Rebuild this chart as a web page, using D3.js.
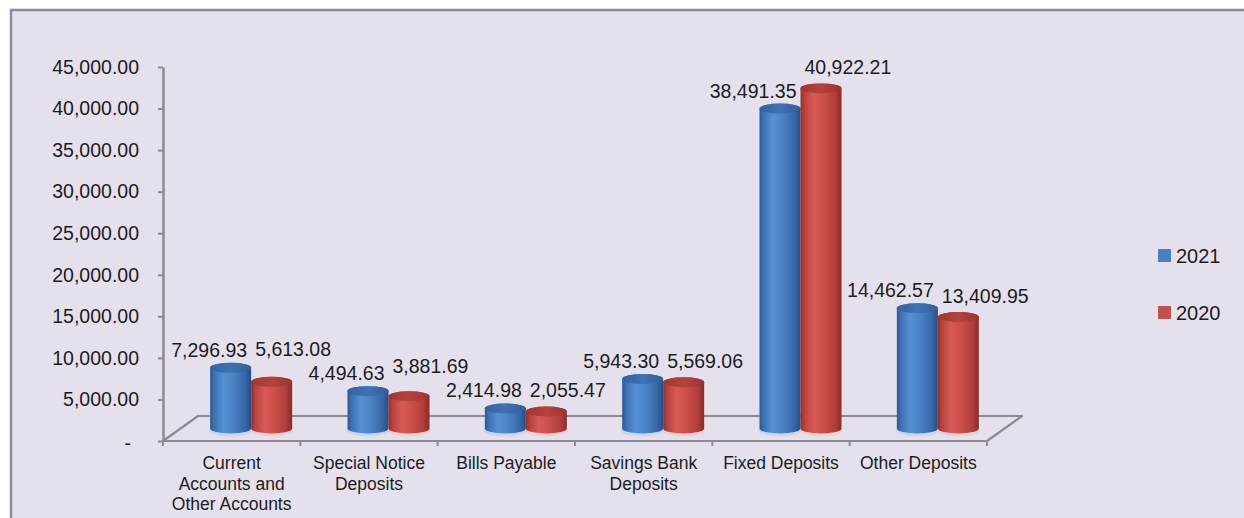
<!DOCTYPE html>
<html>
<head>
<meta charset="utf-8">
<script src="https://cdn.jsdelivr.net/npm/d3@7"></script>
<style>
  html, body { margin: 0; padding: 0; background: #ffffff; }
  svg { display: block; }
  text { font-family: "Liberation Sans", Arial, sans-serif; fill: #1c1c1c; }
</style>
</head>
<body>
<svg id="chart" width="1244" height="518"></svg>
<script>
// Deposits by type, 2021 vs 2020
const categories = [
  "Current Accounts and Other Accounts",
  "Special Notice Deposits",
  "Bills Payable",
  "Savings Bank Deposits",
  "Fixed Deposits",
  "Other Deposits"
];
const seriesNames = ["2021", "2020"];
const values2021 = [7296.93, 4494.63, 2414.98, 5943.30, 38491.35, 14462.57];
const values2020 = [5613.08, 3881.69, 2055.47, 5569.06, 40922.21, 13409.95];
const yTickValues = [0, 5000, 10000, 15000, 20000, 25000, 30000, 35000, 40000, 45000];

const seriesValues = { "2021": values2021, "2020": values2020 };

const svg = d3.select("#chart");
const W = 1244, H = 518;

// chart area frame
svg.append("rect")
  .attr("x", 11).attr("y", 10)
  .attr("width", W).attr("height", H)
  .attr("fill", "#e5e1ec")
  .attr("stroke", "#8e8b97")
  .attr("stroke-width", 2.5);

// plot geometry (oblique 3-D floor)
const plotLeft = 163, plotRight = 987;
const floorY = 441;
const depthX = 35, depthY = -25;     // back edge of the floor
const barDX = 19.5, barDY = -12.5;   // plane the cylinders stand on

const x = d3.scaleBand().domain(categories).range([plotLeft, plotRight]).padding(0);
const xSeries = d3.scaleBand().domain(seriesNames).range([-41, 41]).padding(0);
const yFront = d3.scaleLinear().domain([0, 45000]).range([floorY, 67]);
const yBar = v => yFront(v) + barDY;

const color = d3.scaleOrdinal().domain(seriesNames).range(["#4a7fc1", "#c4504c"]);
const gridColor = "#8c8b94";

// gradients for cylinder shading
const defs = svg.append("defs");
const shades = {
  "2021": {
    body: [["0%", "#2b5892"], ["10%", "#3c72b4"], ["32%", "#5590d3"], ["55%", "#4b84c6"], ["85%", "#3668a7"], ["100%", "#264d84"]],
    top: [["0%", "#3262a0"], ["50%", "#3f72b3"], ["100%", "#305e9a"]]
  },
  "2020": {
    body: [["0%", "#952d2a"], ["10%", "#b9423e"], ["32%", "#d65a55"], ["55%", "#cd4f4a"], ["85%", "#b03d39"], ["100%", "#8a2926"]],
    top: [["0%", "#9f3532"], ["50%", "#b6423e"], ["100%", "#9a3431"]]
  }
};
seriesNames.forEach((s, i) => {
  ["body", "top"].forEach(part => {
    const g = defs.append("linearGradient")
      .attr("id", `grad-${part}-${i}`)
      .attr("x1", "0%").attr("x2", "100%").attr("y1", "0%").attr("y2", "0%");
    shades[s][part].forEach(([off, c]) => g.append("stop").attr("offset", off).attr("stop-color", c));
  });
});

// floor outline
const floorPts = [
  [plotLeft, floorY],
  [plotRight, floorY],
  [plotRight + depthX, floorY + depthY],
  [plotLeft + depthX, floorY + depthY]
];
svg.append("path")
  .attr("d", d3.line()(floorPts) + "Z")
  .attr("fill", "none")
  .attr("stroke", gridColor)
  .attr("stroke-width", 2.2)
  .attr("stroke-linejoin", "round");

// category tick marks along the front edge
const boundaries = categories.map(c => x(c)).concat([plotRight]);
svg.append("g").selectAll("line")
  .data(boundaries)
  .join("line")
  .attr("x1", d => d).attr("x2", d => d)
  .attr("y1", floorY).attr("y2", floorY + 5)
  .attr("stroke", gridColor).attr("stroke-width", 2);

// value axis
const fmt = d3.format(",.2f");
const yAxis = d3.axisLeft(yFront)
  .tickValues(yTickValues)
  .tickSize(5)
  .tickSizeOuter(0)
  .tickPadding(19)
  .tickFormat(v => v === 0 ? "-" : fmt(v));
const axisG = svg.append("g")
  .attr("transform", `translate(${plotLeft},0)`)
  .call(yAxis);
axisG.select(".domain").attr("stroke", gridColor).attr("stroke-width", 2.5);
axisG.selectAll(".tick line").attr("stroke", gridColor).attr("stroke-width", 2);
axisG.selectAll(".tick text")
  .attr("font-size", "19.5px")
  .attr("font-family", "Liberation Sans, Arial, sans-serif")
  .attr("fill", "#1c1c1c");
axisG.selectAll(".tick").filter(d => d === 0).select("text").attr("dx", -8).attr("dy", "0.45em");

// cylinders
const rx = 20.5, ry = 5;
const bars = [];
categories.forEach((c, ci) => {
  const pc = x(c) + x.bandwidth() / 2 + barDX;
  seriesNames.forEach((s, si) => {
    const v = seriesValues[s][ci];
    bars.push({ cat: c, ci, s, si, v, pc, cx: pc + xSeries(s) + xSeries.bandwidth() / 2 });
  });
});

const barG = svg.append("g");
bars.forEach(b => {
  const yb = yBar(0), yt = yBar(b.v);
  const g = barG.append("g");
  // soft light below the base
  g.append("ellipse")
    .attr("cx", b.cx).attr("cy", yb + 2)
    .attr("rx", rx + 1).attr("ry", ry + 1)
    .attr("fill", b.si === 0 ? "#b9cdee" : "#eac4c6").attr("opacity", 0.6);
  const d = `M${b.cx - rx},${yt} L${b.cx - rx},${yb} A${rx},${ry} 0 0 0 ${b.cx + rx},${yb} L${b.cx + rx},${yt} A${rx},${ry} 0 0 0 ${b.cx - rx},${yt} Z`;
  g.append("path").attr("d", d).attr("fill", `url(#grad-body-${b.si})`);
  g.append("ellipse")
    .attr("cx", b.cx).attr("cy", yt)
    .attr("rx", rx).attr("ry", ry)
    .attr("fill", `url(#grad-top-${b.si})`);
});

// value labels: 2021 sits left of the pair centre, 2020 right of it
const gap = 4;
const labelG = svg.append("g");
const labels = bars.map(b => {
  const top = yBar(b.v) - ry;
  const t = labelG.append("text")
    .attr("font-size", "19.5px")
    .attr("text-anchor", b.si === 0 ? "end" : "start")
    .attr("x", b.si === 0 ? b.pc - gap : b.pc + gap)
    .text(fmt(b.v));
  const w = t.node().getComputedTextLength();
  const x0 = b.si === 0 ? b.pc - gap - w : b.pc + gap;
  return { t, x0, x1: x0 + w, y: top - (b.si === 0 ? 6 : 9) };
});
// lift labels that would collide with a neighbour already placed
const placed = [];
labels.slice().sort((a, b) => b.x0 - a.x0).forEach(l => {
  let moved = true;
  while (moved) {
    moved = false;
    for (const p of placed) {
      if (l.x0 < p.x1 && p.x0 < l.x1 && Math.abs(l.y - p.y) < 19) {
        l.y = p.y - 24;
        moved = true;
      }
    }
  }
  placed.push(l);
});
labels.forEach(l => l.t.attr("y", l.y));

// category labels, wrapped to fit
const catG = svg.append("g");
categories.forEach(c => {
  const cx = x(c) + x.bandwidth() / 2;
  const t = catG.append("text")
    .attr("font-size", "17.5px")
    .attr("text-anchor", "middle");
  const words = c.split(" ");
  const lines = [];
  let line = [];
  const probe = catG.append("text").attr("font-size", "17.5px");
  words.forEach(wd => {
    const trial = line.concat([wd]).join(" ");
    probe.text(trial);
    if (probe.node().getComputedTextLength() > 128 && line.length) {
      lines.push(line.join(" "));
      line = [wd];
    } else {
      line.push(wd);
    }
  });
  lines.push(line.join(" "));
  probe.remove();
  lines.forEach((ln, i) => {
    t.append("tspan").attr("x", cx).attr("y", 469 + i * 20.5).text(ln);
  });
});

// legend
const legend = svg.append("g").attr("transform", "translate(1158,249)");
seriesNames.forEach((s, i) => {
  const g = legend.append("g").attr("transform", `translate(0,${i * 57})`);
  g.append("rect").attr("width", 13).attr("height", 13).attr("fill", color(s));
  g.append("text").attr("x", 18).attr("y", 14).attr("font-size", "20px").text(s);
});
</script>
</body>
</html>
